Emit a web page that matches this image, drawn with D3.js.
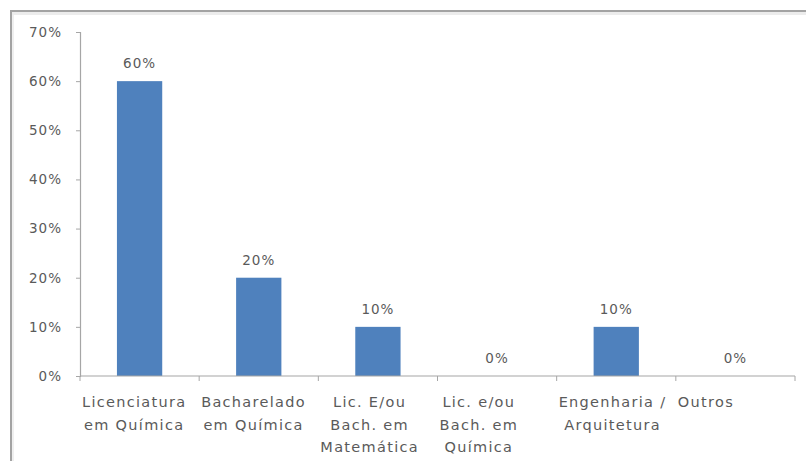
<!DOCTYPE html>
<html>
<head>
<meta charset="utf-8">
<script src="https://cdn.jsdelivr.net/npm/d3@7"></script>
<style>
  html, body { margin: 0; padding: 0; background: #fff; }
  svg text { font-family: "DejaVu Sans", sans-serif; fill: #5a5a5a; }
</style>
</head>
<body>
<svg id="chart" width="806" height="461"></svg>
<script>
const categories = [
  "Licenciatura em Química",
  "Bacharelado em Química",
  "Lic. E/ou Bach. em Matemática",
  "Lic. e/ou Bach. em Química",
  "Engenharia / Arquitetura",
  "Outros"
];
const categoryLines = [
  ["Licenciatura", "em Química"],
  ["Bacharelado", "em Química"],
  ["Lic. E/ou", "Bach. em", "Matemática"],
  ["Lic. e/ou", "Bach. em", "Química"],
  ["Engenharia /", "Arquitetura"],
  ["Outros"]
];
const values = [0.60, 0.20, 0.10, 0.00, 0.10, 0.00];
const yTicks = [0, 0.1, 0.2, 0.3, 0.4, 0.5, 0.6, 0.7];

const svg = d3.select("#chart");
const W = 806, H = 461;
const mLeft = 80, mRight = 795, mTop = 32, mBottom = 376;

// frame (top and left borders with soft shadow)
svg.append("rect").attr("x", 10).attr("y", 10).attr("width", W - 10).attr("height", 2).attr("fill", "#a3a3a3");
svg.append("rect").attr("x", 10).attr("y", 12).attr("width", W - 10).attr("height", 3).attr("fill", "#ececec");
svg.append("rect").attr("x", 10).attr("y", 10).attr("width", 2).attr("height", H - 10).attr("fill", "#a3a3a3");
svg.append("rect").attr("x", 12).attr("y", 15).attr("width", 2).attr("height", H - 15).attr("fill", "#efefef");

const x = d3.scaleBand().domain(categories).range([mLeft, mRight]).paddingInner(0.62).paddingOuter(0.31);
const y = d3.scaleLinear().domain([0, 0.7]).range([mBottom, mTop]);
const fmt = d3.format(".0%");
const axisColor = "#a6a6a6";

// Y axis
const yAxis = svg.append("g").attr("transform", `translate(${mLeft},0)`)
  .call(d3.axisLeft(y).tickValues(yTicks).tickFormat(fmt).tickSize(4).tickPadding(14));
yAxis.select(".domain").attr("stroke", axisColor).attr("stroke-width", 1.2);
yAxis.selectAll(".tick line").attr("stroke", axisColor);
yAxis.selectAll(".tick text").attr("font-size", 13.5).attr("letter-spacing", "1px")
  .attr("font-family", "DejaVu Sans, sans-serif").attr("fill", "#5a5a5a");

// bars
svg.append("g").selectAll("rect").data(values).join("rect")
  .attr("x", (d, i) => x(categories[i]))
  .attr("y", d => y(d))
  .attr("width", x.bandwidth())
  .attr("height", d => y(0) - y(d))
  .attr("fill", "#4F81BD");

// value labels
svg.append("g").selectAll("text").data(values).join("text")
  .attr("x", (d, i) => x(categories[i]) + x.bandwidth() / 2)
  .attr("y", d => y(d) - 13)
  .attr("text-anchor", "middle")
  .attr("font-size", 13.5)
  .attr("letter-spacing", "1px")
  .text(d => fmt(d));

// X axis line and category ticks
const step = x.step();
const gap = step * x.paddingInner() / 2;
svg.append("line").attr("x1", mLeft).attr("x2", mRight).attr("y1", mBottom).attr("y2", mBottom)
  .attr("stroke", axisColor).attr("stroke-width", 1.2);
const bounds = categories.map(c => x(c) - gap).concat([mRight]);
svg.append("g").selectAll("line").data(bounds).join("line")
  .attr("x1", d => d).attr("x2", d => d)
  .attr("y1", mBottom).attr("y2", mBottom + 5)
  .attr("stroke", axisColor);

// category labels: block left-aligned at band start, lines centred within block
const labG = svg.append("g");
categories.forEach((c, i) => {
  const g = labG.append("g");
  const texts = categoryLines[i].map((ln, j) =>
    g.append("text")
      .attr("y", 407 + j * 22.5)
      .attr("text-anchor", "middle")
      .attr("font-size", 14.5)
      .attr("letter-spacing", "1.3px")
      .text(ln));
  const wmax = d3.max(texts, t => t.node().getComputedTextLength());
  const cx = bounds[i] + 2 + wmax / 2;
  texts.forEach(t => t.attr("x", cx));
});
</script>
</body>
</html>
